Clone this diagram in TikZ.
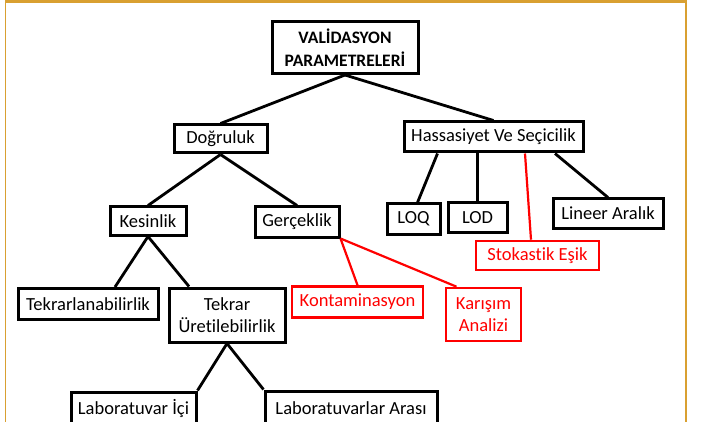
\documentclass[tikz,border=0pt]{standalone}
\usepackage{fontspec}
\setmainfont{Carlito}[Ligatures=CommonOff]
\usetikzlibrary{calc}
\definecolor{frameorange}{HTML}{D9A031}
\definecolor{linkred}{HTML}{FF0000}
\begin{document}
\begin{tikzpicture}[x=1pt,y=-1pt,
  box/.style={draw=black,line width=3pt,fill=white,inner sep=0pt,align=center,
              font=\fontsize{18.5}{22}\selectfont},
  redbox/.style={box,draw=linkred,text=linkred,line width=2.6pt},
  link/.style={black,line width=2.8pt},
  redlink/.style={linkred,line width=2.2pt}]
\useasboundingbox (0,0) rectangle (701,422);

% page frame
\fill[frameorange] (5,0) rectangle (687,3.5);
\draw[frameorange,line width=1.2pt] (5.6,0) -- (5.6,422);
\draw[frameorange,line width=1.6pt] (686,0) -- (686,422);

% boxes
\node[box,minimum width=146pt,minimum height=52pt,font=\bfseries\fontsize{17.5}{23}\selectfont]
  (top) at (345,47.5) {VALİDASYON\\PARAMETRELERİ};
\node[box,minimum width=93pt,minimum height=28pt]  (dog) at (220.5,139) {Doğruluk};
\node[box,minimum width=179pt,minimum height=30pt] (has) at (493.5,137) {Hassasiyet Ve Seçicilik};
\node[box,minimum width=76pt,minimum height=28pt]  (kes) at (148,221) {Kesinlik};
\node[box,minimum width=84pt,minimum height=30pt]  (ger) at (297,222) {Gerçeklik};
\node[box,minimum width=53pt,minimum height=30pt]  (loq) at (413.5,219) {LOQ};
\node[box,minimum width=59pt,minimum height=29pt]  (lod) at (477.5,217.5) {LOD};
\node[box,minimum width=110pt,minimum height=29pt] (lin) at (608,213.5) {Lineer Aralık};
\node[redbox,minimum width=123pt,minimum height=29pt] (sto) at (537.5,255.5) {Stokastik Eşik};
\node[box,minimum width=140pt,minimum height=31pt] (tek) at (88,304) {Tekrarlanabilirlik};
\node[box,minimum width=116pt,minimum height=54pt] (tur) at (227,315) {Tekrar\\Üretilebilirlik};
\node[redbox,minimum width=131pt,minimum height=31pt] (kon) at (357.5,302) {Kontaminasyon};
\node[redbox,minimum width=75pt,minimum height=53pt]  (kar) at (483.5,314.5) {Karışım\\Analizi};
\node[box,minimum width=125pt,minimum height=34pt] (lic) at (133.5,409) {Laboratuvar İçi};
\node[box,minimum width=172pt,minimum height=34pt] (lar) at (351,408) {Laboratuvarlar Arası};

% connectors
\draw[link] (top.south) -- (dog.north);
\draw[link] (top.south) -- (has.north);
\draw[link] (dog.south) -- (kes.north);
\draw[link] (dog.south) -- (ger.north);
\draw[link] ($(has.south)+(-56,0)$) -- ($(loq.north)+(4,0)$);
\draw[link] ($(has.south)+(-16,0)$) -- (lod.north);
\draw[redlink] ($(has.south)+(31.5,0)$) -- ($(sto.north)+(-6.5,0)$);
\draw[link] ($(has.south)+(61.5,0)$) -- (lin.north);
\draw[link] (kes.south) -- ($(tek.north)+(27,0)$);
\draw[link] (kes.south) -- ($(tur.north)+(-38,0)$);
\draw[redlink] (ger.south east) -- (kon.north);
\draw[redlink] (ger.south east) -- ($(kar.north)+(-27,0)$);
\draw[link] (tur.south) -- (lic.north east);
\draw[link] (tur.south) -- (lar.north west);
\end{tikzpicture}
\end{document}
